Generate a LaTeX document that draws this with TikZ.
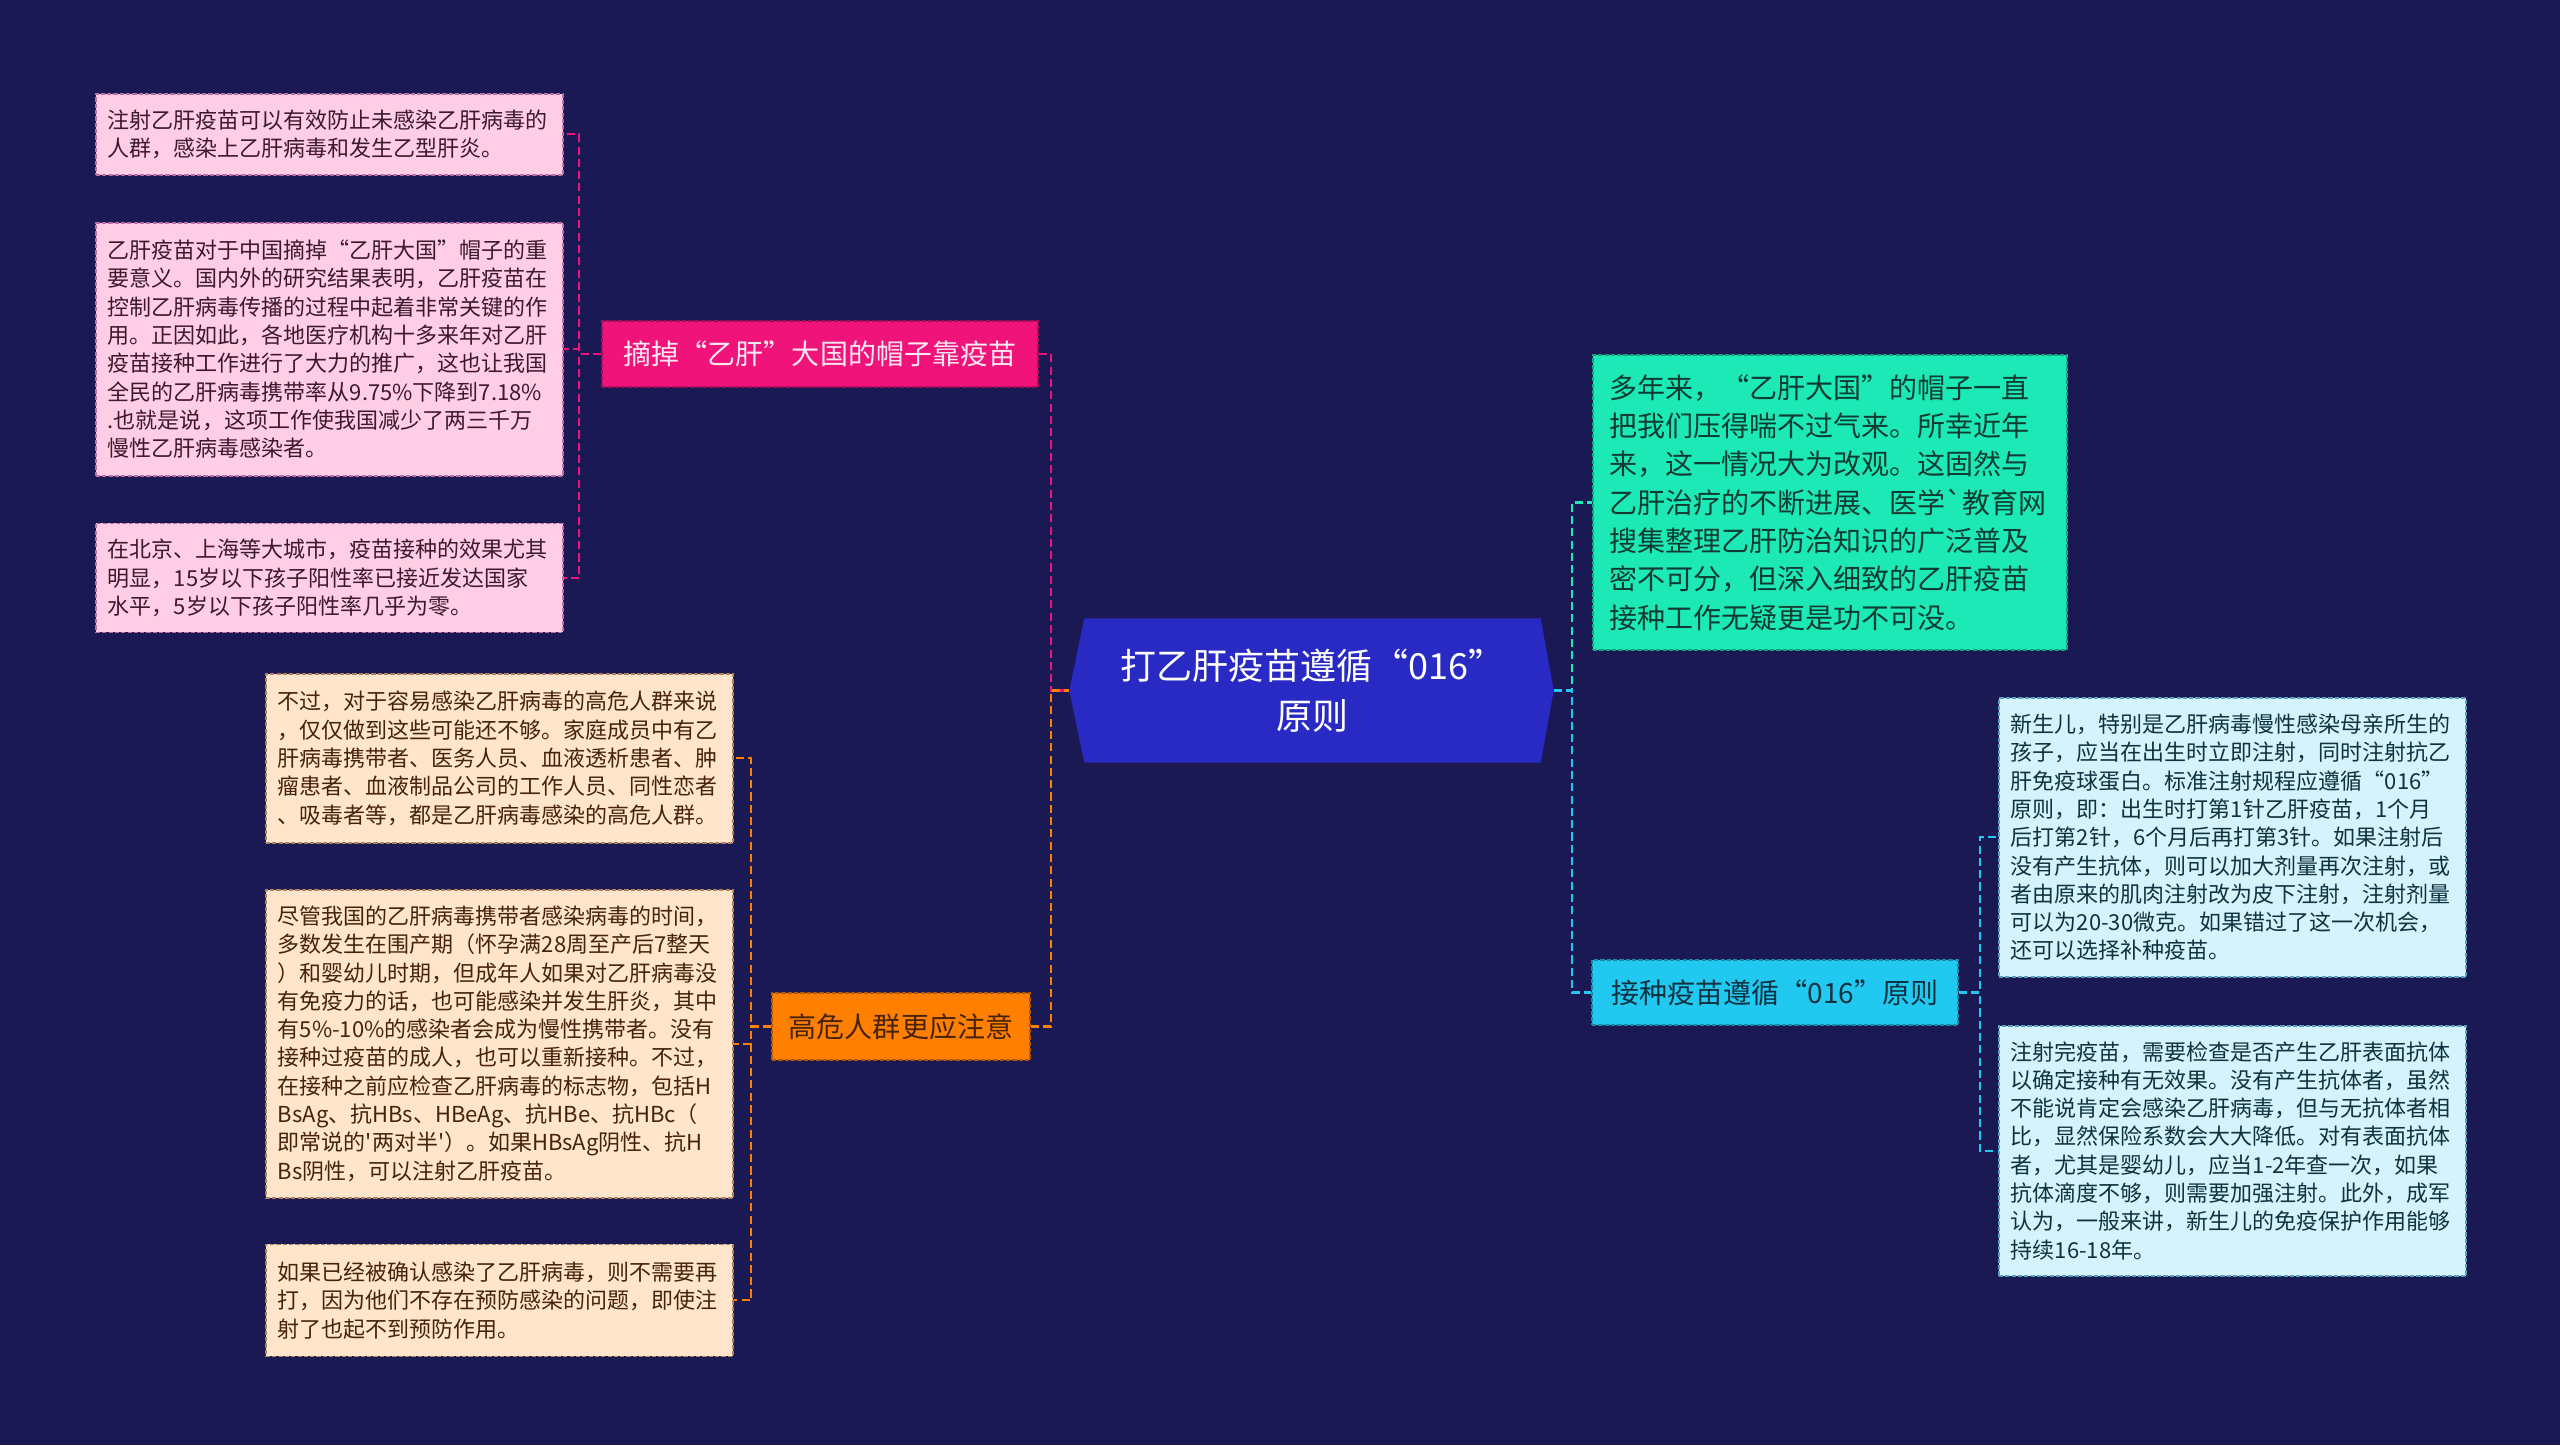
\documentclass[tikz,border=0pt]{standalone}
\usepackage{fontspec}
\newfontfamily\cjk{Noto Sans CJK SC}
\usepackage{xcolor}
\definecolor{vacnavy}{RGB}{27,25,83}
\definecolor{vacblue}{RGB}{41,41,196}
\definecolor{vacpink}{RGB}{240,20,122}
\definecolor{vacpinkleaf}{RGB}{255,206,228}
\definecolor{vacpinkedge}{RGB}{190,110,160}
\definecolor{vacpinktext}{RGB}{60,25,45}
\definecolor{vacorange}{RGB}{255,127,0}
\definecolor{vacorangeleaf}{RGB}{255,229,203}
\definecolor{vacorangeedge}{RGB}{175,130,90}
\definecolor{vacbrown}{RGB}{70,35,10}
\definecolor{vacteal}{RGB}{29,233,182}
\definecolor{vactealtext}{RGB}{15,60,50}
\definecolor{vaccyan}{RGB}{33,200,240}
\definecolor{vaccyanleaf}{RGB}{212,243,250}
\definecolor{vaccyanedge}{RGB}{90,160,190}
\definecolor{vaccyantext}{RGB}{15,50,65}
\usepackage{tikz}
\usetikzlibrary{positioning, backgrounds}

\begin{document}
\begin{tikzpicture}[
    node distance=0.46cm,
    hubbox/.style={rectangle, minimum width=4.55cm, minimum height=1.43cm, align=center,
                   text=white, font=\cjk\fontsize{10.24pt}{14.2pt}\selectfont},
    mainbox/.style={rectangle, dash pattern=on 1.2pt off 0.6pt, line width=0.5pt, inner sep=0.05cm,
                    font=\cjk\fontsize{7.97pt}{10.9pt}\selectfont},
    pinkbox/.style={mainbox, fill=vacpink, draw=vacpink!70!black, text=white!90!vacpink},
    orangebox/.style={mainbox, fill=vacorange, draw=vacorange!70!black, text=vacbrown},
    tealbox/.style={mainbox, fill=vacteal, draw=vacteal!70!black, text=vactealtext,
                    text width=4.42cm, inner xsep=0.16cm, align=left},
    cyanbox/.style={mainbox, fill=vaccyan, draw=vaccyan!70!black, text=vaccyantext},
    leafbox/.style={rectangle, dash pattern=on 1.2pt off 0.6pt, line width=0.5pt,
                    inner xsep=0.12cm, inner ysep=0.15cm, text width=4.43cm, align=left,
                    font=\cjk\fontsize{6.26pt}{8.05pt}\selectfont},
    pinkleaf/.style={leafbox, fill=vacpinkleaf, draw=vacpinkedge, text=vacpinktext},
    orangeleaf/.style={leafbox, fill=vacorangeleaf, draw=vacorangeedge, text=vacbrown},
    cyanleaf/.style={leafbox, fill=vaccyanleaf, draw=vaccyanedge, text=vaccyantext},
    link/.style={line width=0.6pt, dash pattern=on 2.3pt off 1.2pt},
    pinkline/.style={link, vacpink},
    orangeline/.style={link, vacorange},
    tealline/.style={link, vacteal},
    cyanline/.style={link, vaccyan},
]
\useasboundingbox (0,0) rectangle (25.6,-14.45);

\node[hubbox] (hub) at (13.125,-6.905) {打乙肝疫苗遵循“016”\\原则};
\coordinate (hubL) at ([xshift=-0.15cm]hub.west);
\coordinate (hubR) at ([xshift=0.13cm]hub.east);

\node[pinkbox, minimum width=4.36cm, minimum height=0.66cm] (mag) at (8.20,-3.54) {摘掉“乙肝”大国的帽子靠疫苗};
\node[orangebox, minimum width=2.58cm, minimum height=0.67cm] (risk) at (9.01,-10.265) {高危人群更应注意};
\node[tealbox, minimum height=2.95cm] (teal) at (18.30,-5.025) {多年来，“乙肝大国”的帽子一直\\把我们压得喘不过气来。所幸近年\\来，这一情况大为改观。这固然与\\乙肝治疗的不断进展、医学`教育网\\搜集整理乙肝防治知识的广泛普及\\密不可分，但深入细致的乙肝疫苗\\接种工作无疑更是功不可没。};
\node[cyanbox, minimum width=3.66cm, minimum height=0.65cm] (vac) at (17.75,-9.925) {接种疫苗遵循“016”原则};

\node[pinkleaf, anchor=north west, minimum height=0.81cm] (pl1) at (0.95,-0.93) {注射乙肝疫苗可以有效防止未感染乙肝病毒的\\人群，感染上乙肝病毒和发生乙型肝炎。};
\node[pinkleaf, below=of pl1, minimum height=2.53cm] (pl2) {乙肝疫苗对于中国摘掉“乙肝大国”帽子的重\\要意义。国内外的研究结果表明，乙肝疫苗在\\控制乙肝病毒传播的过程中起着非常关键的作\\用。正因如此，各地医疗机构十多来年对乙肝\\疫苗接种工作进行了大力的推广，这也让我国\\全民的乙肝病毒携带率从9.75\%下降到7.18\%\\.也就是说，这项工作使我国减少了两三千万\\慢性乙肝病毒感染者。};
\node[pinkleaf, below=of pl2, minimum height=1.09cm] (pl3) {在北京、上海等大城市，疫苗接种的效果尤其\\明显，15岁以下孩子阳性率已接近发达国家\\水平，5岁以下孩子阳性率几乎为零。};

\node[orangeleaf, anchor=north west, minimum height=1.69cm] (ol1) at (2.65,-6.73) {不过，对于容易感染乙肝病毒的高危人群来说\\，仅仅做到这些可能还不够。家庭成员中有乙\\肝病毒携带者、医务人员、血液透析患者、肿\\瘤患者、血液制品公司的工作人员、同性恋者\\、吸毒者等，都是乙肝病毒感染的高危人群。};
\node[orangeleaf, below=0.45cm of ol1, minimum height=3.08cm] (ol2) {尽管我国的乙肝病毒携带者感染病毒的时间，\\多数发生在围产期（怀孕满28周至产后7整天\\）和婴幼儿时期，但成年人如果对乙肝病毒没\\有免疫力的话，也可能感染并发生肝炎，其中\\有5\%-10\%的感染者会成为慢性携带者。没有\\接种过疫苗的成人，也可以重新接种。不过，\\在接种之前应检查乙肝病毒的标志物，包括H\\BsAg、抗HBs、HBeAg、抗HBe、抗HBc（\\即常说的'两对半'）。如果HBsAg阴性、抗H\\Bs阴性，可以注射乙肝疫苗。};
\node[orangeleaf, below=0.45cm of ol2, minimum height=1.12cm] (ol3) {如果已经被确认感染了乙肝病毒，则不需要再\\打，因为他们不存在预防感染的问题，即使注\\射了也起不到预防作用。};

\node[cyanleaf, anchor=north west, minimum height=2.79cm] (cl1) at (19.98,-6.97) {新生儿，特别是乙肝病毒慢性感染母亲所生的\\孩子，应当在出生时立即注射，同时注射抗乙\\肝免疫球蛋白。标准注射规程应遵循“016”\\原则，即：出生时打第1针乙肝疫苗，1个月\\后打第2针，6个月后再打第3针。如果注射后\\没有产生抗体，则可以加大剂量再次注射，或\\者由原来的肌肉注射改为皮下注射，注射剂量\\可以为20-30微克。如果错过了这一次机会，\\还可以选择补种疫苗。};
\node[cyanleaf, below=0.47cm of cl1, minimum height=2.50cm] (cl2) {注射完疫苗，需要检查是否产生乙肝表面抗体\\以确定接种有无效果。没有产生抗体者，虽然\\不能说肯定会感染乙肝病毒，但与无抗体者相\\比，显然保险系数会大大降低。对有表面抗体\\者，尤其是婴幼儿，应当1-2年查一次，如果\\抗体滴度不够，则需要加强注射。此外，成军\\认为，一般来讲，新生儿的免疫保护作用能够\\持续16-18年。};

\draw[pinkline] (mag.west) -- ++(-0.22,0) |- (pl1.east);
\draw[pinkline] (mag.west) -- ++(-0.22,0) |- (pl2.east);
\draw[pinkline] (mag.west) -- ++(-0.22,0) |- (pl3.east);

\draw[orangeline] (risk.west) -- ++(-0.20,0) |- (ol1.east);
\draw[orangeline] (risk.west) -- ++(-0.20,0) |- (ol2.east);
\draw[orangeline] (risk.west) -- ++(-0.20,0) |- (ol3.east);

\draw[cyanline] (vac.east) -- ++(0.21,0) |- (cl1.west);
\draw[cyanline] (vac.east) -- ++(0.21,0) |- (cl2.west);

\draw[pinkline] (mag.east) -- ++(0.12,0) |- (hubL);
\draw[orangeline] (risk.east) -- ++(0.20,0) |- (hubL);
\draw[tealline] (hubR) -- ++(0.18,0) |- (teal.west);
\draw[cyanline] (hubR) -- ++(0.18,0) |- (vac.west);

\begin{scope}[on background layer]
\fill[vacnavy] (0,0) rectangle (25.6,-14.45);
\fill[vacblue] (hubL) -- (hub.north west) -- (hub.north east) -- (hubR) -- (hub.south east) -- (hub.south west) -- cycle;
\end{scope}

\end{tikzpicture}
\end{document}
